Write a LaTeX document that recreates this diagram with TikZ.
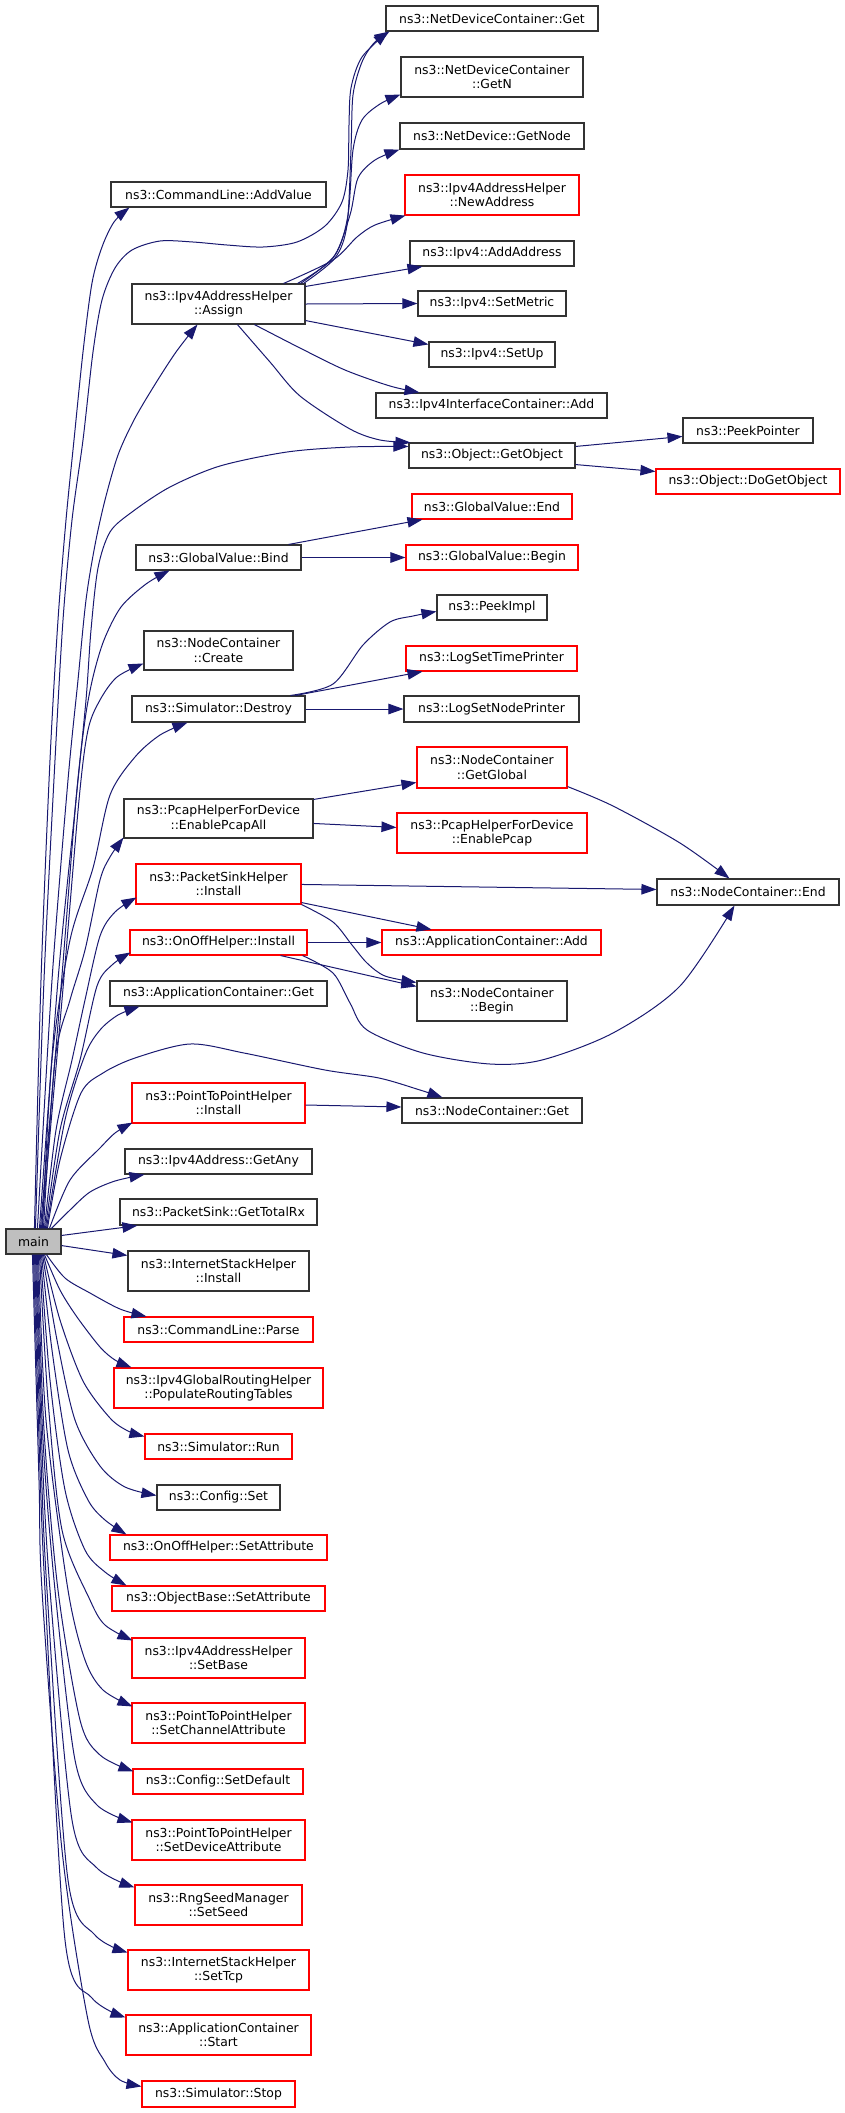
\documentclass[tikz,border=0pt]{standalone}
\usepackage{fontspec}
\setmainfont{DejaVu Sans}
\usetikzlibrary{arrows.meta,calc}
\definecolor{edgec}{HTML}{191970}
\newcommand\mkbox[7]{\node[#1, minimum width={(#5-#3)*1pt}, minimum height={(#6-#4)*1pt}] (#2) at ({(#3+#5)/2},{(#4+#6)/2}) {#7};}
\begin{document}
\begin{tikzpicture}[x=1pt,y=-1pt,
  bx/.style={draw=black!80, line width=1.1pt, inner sep=0pt, align=center, fill=white, font=\fontsize{12.4}{14.5}\selectfont},
  rbx/.style={bx, draw=red},
  mbx/.style={bx, fill=black!25},
  conn/.style={draw=edgec, line width=1pt, -{Triangle[length=15pt,width=10.5pt]}},
  sm/.style={smooth, tension=0.5}]
\useasboundingbox (0,0) rectangle (845,2113);
% left column
\mkbox{bx}{addvalue}{111}{182}{326}{207}{ns3::CommandLine::AddValue}
\mkbox{bx}{assign}{132}{284}{305}{324}{ns3::Ipv4AddressHelper\\::Assign}
\mkbox{bx}{bind}{136}{545}{301}{570}{ns3::GlobalValue::Bind}
\mkbox{bx}{create}{144}{631}{293}{670}{ns3::NodeContainer\\::Create}
\mkbox{bx}{destroy}{132}{696}{305}{722}{ns3::Simulator::Destroy}
\mkbox{bx}{pcapall}{124}{799}{313}{838}{ns3::PcapHelperForDevice\\::EnablePcapAll}
\mkbox{rbx}{psinst}{136}{864}{301}{904}{ns3::PacketSinkHelper\\::Install}
\mkbox{rbx}{ooinst}{130}{930}{307}{955}{ns3::OnOffHelper::Install}
\mkbox{bx}{acget}{110}{981}{327}{1006}{ns3::ApplicationContainer::Get}
\mkbox{rbx}{p2pinst}{132}{1083}{305}{1123}{ns3::PointToPointHelper\\::Install}
\mkbox{bx}{getany}{125}{1149}{312}{1174}{ns3::Ipv4Address::GetAny}
\mkbox{bx}{totalrx}{120}{1199}{317}{1225}{ns3::PacketSink::GetTotalRx}
\mkbox{mbx}{main}{6}{1229}{61}{1254}{main}
\mkbox{bx}{ishinst}{128}{1251}{309}{1291}{ns3::InternetStackHelper\\::Install}
\mkbox{rbx}{parse}{124}{1317}{313}{1342}{ns3::CommandLine::Parse}
\mkbox{rbx}{routing}{114}{1368}{323}{1408}{ns3::Ipv4GlobalRoutingHelper\\::PopulateRoutingTables}
\mkbox{rbx}{run}{145}{1434}{292}{1459}{ns3::Simulator::Run}
\mkbox{bx}{cfgset}{157}{1485}{280}{1510}{ns3::Config::Set}
\mkbox{rbx}{oosetattr}{110}{1535}{327}{1560}{ns3::OnOffHelper::SetAttribute}
\mkbox{rbx}{obsetattr}{112}{1586}{325}{1611}{ns3::ObjectBase::SetAttribute}
\mkbox{rbx}{setbase}{132}{1638}{305}{1678}{ns3::Ipv4AddressHelper\\::SetBase}
\mkbox{rbx}{setchan}{132}{1703}{305}{1743}{ns3::PointToPointHelper\\::SetChannelAttribute}
\mkbox{rbx}{setdefault}{133}{1769}{303}{1794}{ns3::Config::SetDefault}
\mkbox{rbx}{setdev}{132}{1820}{305}{1860}{ns3::PointToPointHelper\\::SetDeviceAttribute}
\mkbox{rbx}{setseed}{135}{1885}{302}{1925}{ns3::RngSeedManager\\::SetSeed}
\mkbox{rbx}{settcp}{128}{1950}{309}{1990}{ns3::InternetStackHelper\\::SetTcp}
\mkbox{rbx}{acstart}{126}{2015}{311}{2055}{ns3::ApplicationContainer\\::Start}
\mkbox{rbx}{simstop}{142}{2081}{295}{2107}{ns3::Simulator::Stop}
% middle column
\mkbox{bx}{ndcget}{386}{6}{598}{31}{ns3::NetDeviceContainer::Get}
\mkbox{bx}{getn}{401}{57}{583}{97}{ns3::NetDeviceContainer\\::GetN}
\mkbox{bx}{getnode}{400}{123}{584}{149}{ns3::NetDevice::GetNode}
\mkbox{rbx}{newaddr}{405}{175}{579}{215}{ns3::Ipv4AddressHelper\\::NewAddress}
\mkbox{bx}{addaddr}{410}{241}{574}{266}{ns3::Ipv4::AddAddress}
\mkbox{bx}{setmetric}{418}{291}{566}{316}{ns3::Ipv4::SetMetric}
\mkbox{bx}{setup}{429}{342}{555}{367}{ns3::Ipv4::SetUp}
\mkbox{bx}{iicadd}{376}{393}{607}{418}{ns3::Ipv4InterfaceContainer::Add}
\mkbox{bx}{getobject}{409}{443}{575}{468}{ns3::Object::GetObject}
\mkbox{rbx}{gvend}{412}{494}{572}{519}{ns3::GlobalValue::End}
\mkbox{rbx}{gvbegin}{406}{545}{578}{570}{ns3::GlobalValue::Begin}
\mkbox{bx}{peekimpl}{437}{595}{547}{620}{ns3::PeekImpl}
\mkbox{rbx}{timeprinter}{406}{646}{577}{671}{ns3::LogSetTimePrinter}
\mkbox{bx}{nodeprinter}{404}{696}{579}{722}{ns3::LogSetNodePrinter}
\mkbox{rbx}{getglobal}{417}{747}{567}{788}{ns3::NodeContainer\\::GetGlobal}
\mkbox{rbx}{enablepcap}{397}{813}{587}{853}{ns3::PcapHelperForDevice\\::EnablePcap}
\mkbox{rbx}{acadd}{382}{930}{601}{955}{ns3::ApplicationContainer::Add}
\mkbox{bx}{ncbegin}{417}{981}{567}{1021}{ns3::NodeContainer\\::Begin}
\mkbox{bx}{ncget}{402}{1098}{582}{1123}{ns3::NodeContainer::Get}
% right column
\mkbox{bx}{peekpointer}{683}{418}{813}{443}{ns3::PeekPointer}
\mkbox{rbx}{dogetobject}{656}{469}{840}{494}{ns3::Object::DoGetObject}
\mkbox{bx}{ncend}{657}{879}{839}{905}{ns3::NodeContainer::End}

% ---- edges from main, upward
\draw[conn] plot[sm] coordinates {($(main.north west)+(29,0)$) (41,980) (50,760) (58,620) (66,520) (74,440) (83,352) (92,283) (102,247) (114,222) ($(addvalue.south west)+(19,0)$)};
\draw[conn] plot[sm] coordinates {($(main.north west)+(30,0)$) (44,980) (55,760) (63,620) (72,520) (83,440) (93,352) (102,300) (115,268) (132,250) (160,241) (193,242) (227,245) (263,247) (297,242) (325,226) (342,202) (348,170) (349,125) (351,88) (362,57) ($(ndcget.south west)+(3,0)$)};
\draw[conn] plot[sm] coordinates {($(main.north west)+(32,0)$) (52,980) (68,780) (78,680) (86,600) (95,545) (105,500) (118,455) (134,420) (154,386) (176,352) ($(assign.south west)+(66,0)$)};
\draw[conn] plot[sm] coordinates {($(main.north west)+(34,0)$) (58,980) (76,800) (86,700) (91,630) (98,568) (110,532) (132,512) (170,487) (220,466) (287,452) (350,447) ($(getobject.north west)+(0,4)$)};
\draw[conn] plot[sm] coordinates {($(main.north west)+(35,0)$) (60,1000) (76,800) (85,720) (93,677) (104,640) (121,607) (146,584) ($(bind.south west)+(34,0)$)};
\draw[conn] plot[sm] coordinates {($(main.north west)+(36,0)$) (62,1000) (79,800) (88,730) (100,700) (117,677) ($(create.north west)+(0,33)$)};
\draw[conn] plot[sm] coordinates {($(main.north west)+(37,0)$) (52,1060) (70,940) (93,868) (110,795) (135,757) (160,735) ($(destroy.south west)+(56,0)$)};
\draw[conn] plot[sm] coordinates {($(main.north west)+(38,0)$) (55,1060) (70,1000) (85,950) (100,880) (110,857) ($(pcapall.south west)+(0,-1)$)};
\draw[conn] plot[sm] coordinates {($(main.north west)+(39,0)$) (56,1130) (72,1060) (85,1000) (100,936) (115,912) ($(psinst.north west)+(1,34)$)};
\draw[conn] plot[sm] coordinates {($(main.north west)+(40,0)$) (60,1130) (80,1060) (97,986) (112,965) ($(ooinst.north west)+(1,23)$)};
\draw[conn] plot[sm] coordinates {($(main.north west)+(41,0)$) (65,1120) (85,1055) (100,1030) (118,1015) ($(acget.south west)+(30,0)$)};
\draw[conn] plot[sm] coordinates {($(main.north west)+(42,0)$) (60,1160) (81,1093) (103,1073) (135,1058) (190,1044) (244,1053) (325,1070) (379,1078) (420,1090) ($(ncget.north west)+(41,0)$)};
\draw[conn] plot[sm] coordinates {($(main.north west)+(44,0)$) (70,1180) (100,1148) (115,1133) ($(p2pinst.south west)+(1,-1)$)};
\draw[conn] plot[sm] coordinates {($(main.north west)+(46,0)$) (70,1210) (90,1192) (115,1181) ($(getany.south west)+(20,0)$)};
\draw[conn] ($(main.north east)+(0,7)$) -- ($(totalrx.south west)+(18,0)$);
\draw[conn] ($(main.south east)+(0,-9)$) -- ($(ishinst.north west)+(0,5)$);
% ---- edges from main, downward
\draw[conn] plot[sm] coordinates {($(main.south west)+(41,0)$) (65,1278) (90,1293) (120,1309) ($(parse.north west)+(23,0)$)};
\draw[conn] plot[sm] coordinates {($(main.south west)+(39,0)$) (60,1290) (77,1317) (100,1347) (115,1360) ($(routing.north west)+(18,0)$)};
\draw[conn] plot[sm] coordinates {($(main.south west)+(38,0)$) (60,1320) (83,1381) (110,1418) (128,1431) ($(run.north west)+(0,3)$)};
\draw[conn] plot[sm] coordinates {($(main.south west)+(37,0)$) (57,1340) (75,1420) (100,1466) (125,1487) ($(cfgset.north west)+(0,11)$)};
\draw[conn] plot[sm] coordinates {($(main.south west)+(36,0)$) (52,1350) (68,1450) (88,1500) (105,1520) ($(oosetattr.north west)+(17,0)$)};
\draw[conn] plot[sm] coordinates {($(main.south west)+(35,0)$) (50,1380) (65,1490) (85,1550) (105,1572) ($(obsetattr.north west)+(15,0)$)};
\draw[conn] plot[sm] coordinates {($(main.south west)+(34,0)$) (48,1400) (62,1530) (90,1600) (105,1625) ($(setbase.north west)+(1,3)$)};
\draw[conn] plot[sm] coordinates {($(main.south west)+(33,0)$) (46,1420) (68,1590) (85,1660) (103,1690) ($(setchan.north west)+(1,4)$)};
\draw[conn] plot[sm] coordinates {($(main.south west)+(32,0)$) (44,1430) (58,1590) (80,1720) (100,1755) ($(setdefault.north west)+(1,3)$)};
\draw[conn] plot[sm] coordinates {($(main.south west)+(31,0)$) (43,1440) (55,1590) (75,1760) (97,1805) ($(setdev.north west)+(1,3)$)};
\draw[conn] plot[sm] coordinates {($(main.south west)+(30,0)$) (42,1450) (50,1590) (72,1820) (97,1868) ($(setseed.north west)+(0,3)$)};
\draw[conn] plot[sm] coordinates {($(main.south west)+(29,0)$) (41,1460) (47,1590) (68,1880) (95,1935) ($(settcp.north west)+(0,3)$)};
\draw[conn] plot[sm] coordinates {($(main.south west)+(28,0)$) (40,1470) (45,1590) (65,1940) (92,1998) ($(acstart.north west)+(0,3)$)};
\draw[conn] plot[sm] coordinates {($(main.south west)+(27,0)$) (39,1480) (42,1590) (62,1850) (88,2020) (105,2062) (120,2080) ($(simstop.north west)+(0,6)$)};
% ---- Assign
\draw[conn] plot[sm] coordinates {($(assign.north east)+(-2,0)$) (335,258) (347,225) (351,150) (353,95) (362,62) (374,43) ($(ndcget.south west)+(4,0)$)};
\draw[conn] plot[sm] coordinates {($(assign.north east)+(-5,0)$) (335,255) (348,215) (353,150) (362,120) (380,104) ($(getn.south west)+(0,-3)$)};
\draw[conn] plot[sm] coordinates {($(assign.north east)+(-8,0)$) (333,258) (350,215) (358,178) (375,160) (getnode.south west)};
\draw[conn] plot[sm] coordinates {($(assign.north east)+(-22,0)$) (333,260) (357,237) (375,225) ($(newaddr.south west)+(1,0)$)};
\draw[conn] ($(assign.north east)+(0,3)$) -- ($(addaddr.south west)+(13,0)$);
\draw[conn] (assign.east) -- (setmetric.west);
\draw[conn] ($(assign.south east)+(0,-4)$) -- ($(setup.north west)+(0,3)$);
\draw[conn] plot[sm] coordinates {($(assign.south west)+(123,0)$) (300,348) (345,370) (390,386) ($(iicadd.north west)+(44,0)$)};
\draw[conn] plot[sm] coordinates {($(assign.south west)+(106,0)$) (270,362) (300,396) (350,429) (380,440) ($(getobject.north west)+(2,0)$)};
% ---- GetObject
\draw[conn] ($(getobject.north east)+(0,4)$) -- ($(peekpointer.north west)+(0,19)$);
\draw[conn] ($(getobject.south east)+(0,-4)$) -- ($(dogetobject.north west)+(0,3)$);
% ---- Bind
\draw[conn] ($(bind.north east)+(-13,0)$) -- ($(gvend.south west)+(11,0)$);
\draw[conn] (bind.east) -- (gvbegin.west);
% ---- Destroy
\draw[conn] plot[sm] coordinates {($(destroy.north east)+(-15,0)$) (333,684) (363,645) (390,622) (413,616) ($(peekimpl.north west)+(0,17)$)};
\draw[conn] ($(destroy.north east)+(-10,0)$) -- ($(timeprinter.south west)+(17,0)$);
\draw[conn] (destroy.east) -- (nodeprinter.west);
% ---- EnablePcapAll
\draw[conn] ($(pcapall.north east)+(0,1)$) -- ($(getglobal.north west)+(0,36)$);
\draw[conn] ($(pcapall.north east)+(0,25)$) -- ($(enablepcap.north west)+(0,15)$);
\draw[conn] plot[sm] coordinates {($(getglobal.south east)+(0,-2)$) (613,806) (680,843) ($(ncend.north west)+(73,0)$)};
% ---- PacketSinkHelper::Install
\draw[conn] plot[sm] coordinates {($(psinst.north east)+(0,21)$) (480,887) ($(ncend.north west)+(0,11)$)};
\draw[conn] ($(psinst.south east)+(0,-2)$) -- ($(acadd.north west)+(50,0)$);
\draw[conn] plot[sm] coordinates {(psinst.south east) (333,922) (352,945) (367,963) (385,976) ($(ncbegin.north west)+(0,2)$)};
% ---- OnOffHelper::Install
\draw[conn] (ooinst.east) -- (acadd.west);
\draw[conn] ($(ooinst.south east)+(-27,0)$) -- ($(ncbegin.north west)+(0,6)$);
\draw[conn] plot[sm] coordinates {($(ooinst.south east)+(-5,0)$) (333,973) (350,1003) (367,1030) (423,1053) (490,1064) (542,1060) (613,1033) (680,986) ($(ncend.south west)+(78,0)$)};
% ---- PointToPointHelper::Install
\draw[conn] ($(p2pinst.east)+(0,2)$) -- ($(ncget.west)+(0,-3.5)$);
\end{tikzpicture}
\end{document}
